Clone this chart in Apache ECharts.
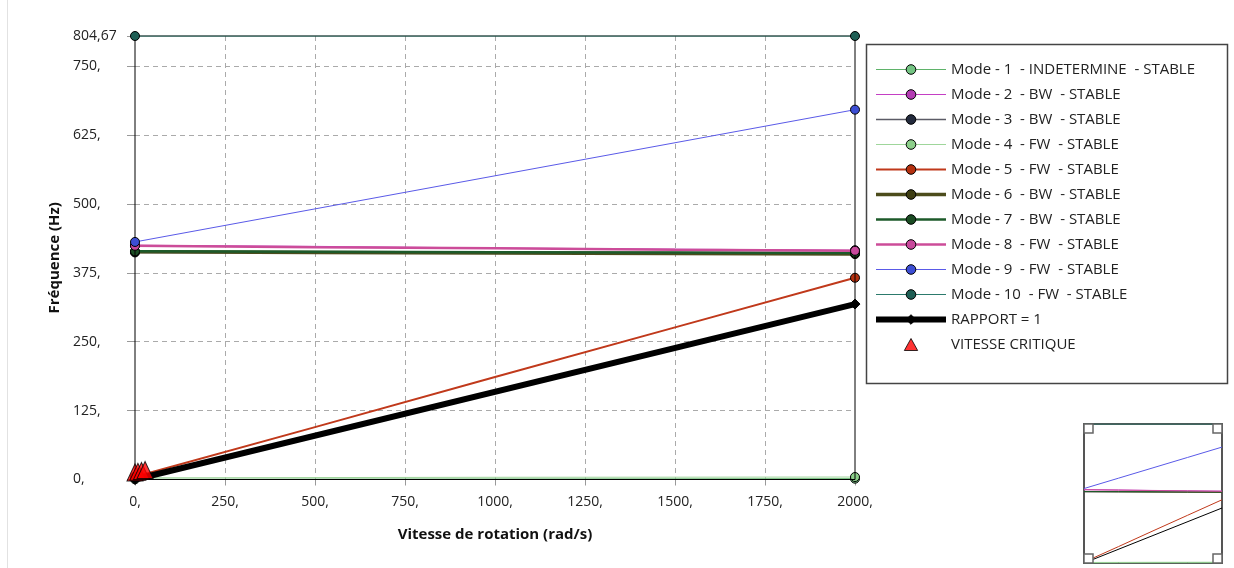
<!DOCTYPE html>
<html>
<head>
<meta charset="utf-8">
<script src="https://cdn.jsdelivr.net/npm/echarts@6/dist/echarts.min.js"></script>
<style>
  html, body { margin: 0; padding: 0; background: #ffffff; }
  #chart { width: 1234px; height: 568px; }
</style>
</head>
<body>
<div id="chart"></div>
<script>
// Campbell diagram: modal frequencies versus rotation speed
const speeds = [0, 500, 1000, 1500, 2000];

const modeNames = [
  'Mode - 1  - INDETERMINE  - STABLE',
  'Mode - 2  - BW  - STABLE',
  'Mode - 3  - BW  - STABLE',
  'Mode - 4  - FW  - STABLE',
  'Mode - 5  - FW  - STABLE',
  'Mode - 6  - BW  - STABLE',
  'Mode - 7  - BW  - STABLE',
  'Mode - 8  - FW  - STABLE',
  'Mode - 9  - FW  - STABLE',
  'Mode - 10  - FW  - STABLE'
];

const mode1 = [0.5, 0.8, 1.0, 1.2, 1.5];
const mode2 = [425, 423, 420, 418, 416];
const mode3 = [412, 411.5, 411, 410.5, 410];
const mode4 = [3, 3.5, 4, 4.2, 4.5];
const mode5 = [5, 95, 186, 276, 366];
const mode6 = [413, 412, 411, 410, 409];
const mode7 = [414, 413.3, 412.5, 411.8, 411];
const mode8 = [424, 421.5, 419.5, 417, 415];
const mode9 = [431, 491, 551, 611, 671];
const mode10 = [804.67, 804.67, 804.67, 804.67, 804.67];
const modeValues = [mode1, mode2, mode3, mode4, mode5, mode6, mode7, mode8, mode9, mode10];

// frequency = speed / (2*pi) line
const ratioName = 'RAPPORT = 1';
const ratioSpeeds = [0, 2000];
const ratioFreq = [0, 318.31];

// critical speeds (rad/s) and matching frequencies (Hz)
const critName = 'VITESSE CRITIQUE';
const critSpeeds = [0, 8, 18, 28];
const critFreqs = [0, 1.3, 2.9, 4.5];

const yTicks = [0, 125, 250, 375, 500, 625, 750];
const yMax = 804.67;

const modeStyles = [
  { line: '#5fb36a', mark: '#74c483', width: 1 },
  { line: '#c43fc4', mark: '#b43cb4', width: 1 },
  { line: '#5b5b66', mark: '#232a3c', width: 1.5 },
  { line: '#9fd69b', mark: '#8ccf8a', width: 1 },
  { line: '#c0391b', mark: '#b4300f', width: 2 },
  { line: '#4c4c1c', mark: '#3e3e12', width: 3.5 },
  { line: '#1d5a2a', mark: '#1a4b22', width: 2.5 },
  { line: '#cc4c99', mark: '#c8489c', width: 2.5 },
  { line: '#5a5ae8', mark: '#3c4ed4', width: 1 },
  { line: '#2c7a6c', mark: '#1e5e54', width: 1 }
];

const fontFam = '"Open Sans", "Noto Sans", "DejaVu Sans", sans-serif';

function pairs(xs, ys) { return xs.map((x, i) => [x, ys[i]]); }
function endSymbolSize(size, n) {
  return function (val, params) {
    return (params.dataIndex === 0 || params.dataIndex === n - 1) ? size : 0;
  };
}

const series = [];
const miniSeries = [];
const legendData = [];
modeValues.forEach((vals, k) => {
  const st = modeStyles[k];
  series.push({
    name: modeNames[k],
    type: 'line',
    xAxisIndex: 0, yAxisIndex: 0,
    data: pairs(speeds, vals),
    symbol: 'circle',
    symbolSize: endSymbolSize(9, speeds.length),
    showAllSymbol: true,
    lineStyle: { color: st.line, width: st.width },
    itemStyle: { color: st.mark, borderColor: '#000', borderWidth: 1 },
    emphasis: { disabled: true },
    animation: false,
    z: 3 + k
  });
  miniSeries.push({
    name: modeNames[k],
    type: 'line',
    xAxisIndex: 1, yAxisIndex: 1,
    data: pairs(speeds, vals),
    symbol: 'none',
    lineStyle: { color: st.line, width: 1 },
    emphasis: { disabled: true },
    animation: false,
    z: 3
  });
  legendData.push({
    name: modeNames[k],
    itemStyle: { color: st.mark, borderColor: '#000', borderWidth: 1 },
    lineStyle: { color: st.line, width: Math.max(st.width, 1.2) }
  });
});

series.push({
  name: ratioName,
  type: 'line',
  xAxisIndex: 0, yAxisIndex: 0,
  data: pairs(ratioSpeeds, ratioFreq),
  symbol: 'diamond',
  symbolSize: 10,
  lineStyle: { color: '#000', width: 6 },
  itemStyle: { color: '#000', borderColor: '#000', borderWidth: 1 },
  emphasis: { disabled: true },
  animation: false,
  z: 14
});
miniSeries.push({
  name: ratioName,
  type: 'line',
  xAxisIndex: 1, yAxisIndex: 1,
  data: pairs(ratioSpeeds, ratioFreq),
  symbol: 'none',
  lineStyle: { color: '#000', width: 1 },
  emphasis: { disabled: true },
  animation: false,
  z: 3
});
legendData.push({
  name: ratioName,
  itemStyle: { color: '#000', borderColor: '#000', borderWidth: 1 },
  lineStyle: { color: '#000', width: 6 }
});

series.push({
  name: critName,
  type: 'scatter',
  xAxisIndex: 0, yAxisIndex: 0,
  data: pairs(critSpeeds, critFreqs),
  symbol: 'triangle',
  symbolSize: [16, 17],
  symbolOffset: [0, -7],
  itemStyle: { color: '#ff0000', borderColor: '#000', borderWidth: 1 },
  emphasis: { disabled: true },
  animation: false,
  z: 20
});
legendData.push({
  name: critName,
  icon: 'path://M5,0 L10,9 L0,9 Z',
  itemStyle: { color: '#ff0000', borderColor: '#000', borderWidth: 1 }
});

const chart = echarts.init(document.getElementById('chart'), null, { renderer: 'canvas' });

chart.setOption({
  backgroundColor: '#ffffff',
  animation: false,
  textStyle: { fontFamily: fontFam },
  grid: [
    { left: 135, right: 379, top: 36, bottom: 88.5, show: true, borderColor: '#000', borderWidth: 1, backgroundColor: 'transparent', z: 10 },
    { left: 1084, width: 138, top: 424, height: 139, show: true, borderColor: '#555', borderWidth: 2 }
  ],
  legend: {
    data: legendData,
    orient: 'vertical',
    left: 873,
    top: 62,
    padding: 0,
    itemWidth: 70,
    itemHeight: 12,
    itemGap: 10,
    symbolKeepAspect: true,
    selectedMode: false,
    textStyle: { fontFamily: fontFam, fontSize: 15, color: '#222', padding: [0, 0, 0, 0] }
  },
  xAxis: [
    {
      type: 'value',
      gridIndex: 0,
      min: 0, max: 2000, interval: 250,
      name: 'Vitesse de rotation (rad/s)',
      nameLocation: 'middle',
      nameGap: 48,
      nameTextStyle: { fontFamily: fontFam, fontSize: 15, fontWeight: 'bold', color: '#111' },
      axisLine: { show: false },
      axisTick: { show: true, length: 6, lineStyle: { color: '#999' } },
      axisLabel: { margin: 16, fontSize: 14, color: '#222', fontFamily: fontFam, formatter: v => v + ',' },
      splitLine: { show: true, showMinLine: false, showMaxLine: false, lineStyle: { color: '#aaa', type: [5, 4] } }
    },
    {
      type: 'value', gridIndex: 1, min: 0, max: 2000,
      axisLine: { show: false }, axisTick: { show: false }, axisLabel: { show: false }, splitLine: { show: false }
    }
  ],
  yAxis: [
    {
      type: 'value',
      gridIndex: 0,
      min: 0, max: yMax, interval: 125,
      name: 'Fréquence (Hz)',
      nameLocation: 'middle',
      nameGap: 66,
      nameRotate: 90,
      nameTextStyle: { fontFamily: fontFam, fontSize: 15, fontWeight: 'bold', color: '#111' },
      axisLine: { show: false },
      axisTick: { show: true, length: 8, lineStyle: { color: '#999' } },
      axisLabel: {
        margin: 62, align: 'left', fontSize: 14, color: '#222', fontFamily: fontFam,
        formatter: v => (yTicks.indexOf(v) >= 0 ? v + ',' : String(v).replace('.', ','))
      },
      splitLine: { show: true, showMinLine: false, showMaxLine: false, lineStyle: { color: '#aaa', type: [5, 4] } }
    },
    {
      type: 'value', gridIndex: 1, min: 0, max: yMax,
      axisLine: { show: false }, axisTick: { show: false }, axisLabel: { show: false }, splitLine: { show: false }
    }
  ],
  graphic: [
    { type: 'line', shape: { x1: 7.5, y1: 0, x2: 7.5, y2: 568 }, style: { stroke: '#e2e2e2', lineWidth: 1 }, silent: true },
    // legend frame
    { type: 'rect', shape: { x: 866.5, y: 44.5, width: 361, height: 339 }, style: { fill: 'none', stroke: '#444', lineWidth: 1.5 }, z: 0, silent: true },
    // corner handles of the overview panel
    { type: 'rect', shape: { x: 1084, y: 424, width: 9, height: 9 }, style: { fill: '#fff', stroke: '#666', lineWidth: 1.5 }, z: 100, silent: true },
    { type: 'rect', shape: { x: 1213, y: 424, width: 9, height: 9 }, style: { fill: '#fff', stroke: '#666', lineWidth: 1.5 }, z: 100, silent: true },
    { type: 'rect', shape: { x: 1084, y: 554, width: 9, height: 9 }, style: { fill: '#fff', stroke: '#666', lineWidth: 1.5 }, z: 100, silent: true },
    { type: 'rect', shape: { x: 1213, y: 554, width: 9, height: 9 }, style: { fill: '#fff', stroke: '#666', lineWidth: 1.5 }, z: 100, silent: true }
  ],
  series: series.concat(miniSeries)
});
</script>
</body>
</html>
